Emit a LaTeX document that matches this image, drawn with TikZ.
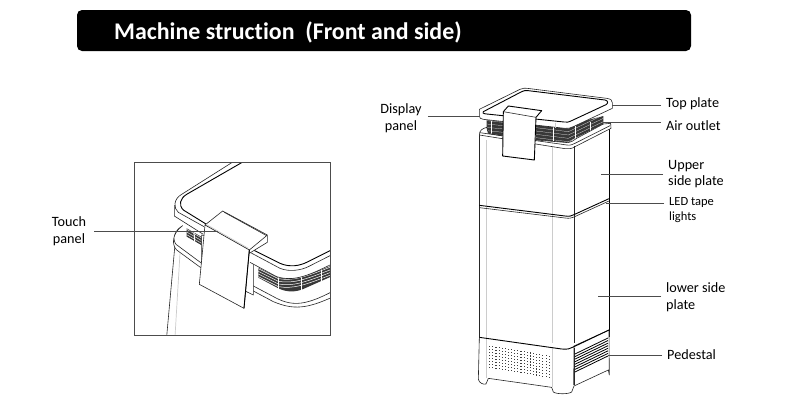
\documentclass[tikz,border=0pt]{standalone}
\usepackage{fontspec}
\setmainfont[Ligatures=NoCommon]{Carlito}
\definecolor{linegray}{gray}{0.15}
\definecolor{ribgray}{gray}{0.8}
\definecolor{meshgray}{gray}{0.22}
\tikzset{
  lbl/.style={font=\fontsize{14.2}{16.5}\selectfont,align=left,text=black,inner sep=0pt},
  leader/.style={draw=black!70,line width=0.6pt},
  edge/.style={draw=linegray,line width=0.6pt,line join=round},
  thick edge/.style={draw=black,line width=0.9pt,line join=round},
  rib/.style={draw=ribgray,line width=0.7pt},
  zoomA/.style={shift={(440,80)},x=0.3333pt,y=-0.3333pt},
  zoomB/.style={shift={(440,280)},x=0.3333pt,y=-0.3333pt},
  zoomC/.style={shift={(130,155)},x=0.3333pt,y=-0.3333pt},
}
\begin{document}
\begin{tikzpicture}[x=1pt,y=-1pt]
\useasboundingbox (0,0) rectangle (800,400);
\fill[white] (0,0) rectangle (800,400);
% banner
\fill[black,rounded corners=5pt] (77,10) rectangle (691,51);
\node[anchor=west,text=white,inner sep=0pt,font=\fontsize{23.9}{26}\selectfont\bfseries] (title) at (114,32) {Machine struction\hspace{0.45em}(Front and side)};
% main unit, upper part
\begin{scope}[zoomA]
  \draw[edge] (118,165) -- (118,790);
  \draw[black,line width=1pt] (508,135) -- (508,770);
  \draw[rib] (140,180) -- (140,790);
  \draw[rib] (338,195) -- (338,790);
  % mesh
  \fill[meshgray] (140,120) -- (190,125) -- (190,168) -- (140,158) -- cycle;
  \fill[meshgray] (288,125) -- (385,135) -- (490,108) -- (490,132) -- (400,178) -- (385,188) -- (288,180) -- cycle;
  \foreach \y in {0,10,...,40} {
    \draw[white,line width=0.2pt] (140,{122+\y}) -- (190,{127+\y});
    \draw[white,line width=0.2pt] (288,{133+\y}) -- (385,{145+\y}) -- (490,{\y+95});
  }
  \foreach \x in {340,405,450} \draw[white,line width=0.9pt] (\x,125) -- (\x,190);
  \draw[white,line width=0.8pt] (155,120) -- (155,165);
  % upper rim
  \draw[edge,fill=white] (118,165) .. controls (118,150) and (128,146) .. (140,142) -- (145,160) -- (188,168) -- (288,180) -- (385,188) .. controls (395,188) and (400,180) .. (410,175) -- (490,132) -- (512,130) -- (513,145) -- (405,200) .. controls (395,207) and (385,207) .. (375,206) -- cycle;
  \draw[edge] (120,158) -- (380,195) .. controls (392,197) and (398,193) .. (405,190) -- (510,137);
  \draw[edge] (403,198) -- (403,790);
  % seam
  \draw[thick edge] (118,376) -- (375,408) .. controls (388,410) and (395,408) .. (402,404) -- (507,356);
  \draw[edge] (118,383) -- (375,414) .. controls (388,416) and (395,414) .. (402,411) -- (507,363);
  % top plate
  \draw[edge,fill=white] (118,88) -- (240,28) .. controls (250,24) and (255,24) .. (262,25) -- (500,55) .. controls (512,57) and (517,60) .. (517,68) -- (517,85) -- (400,140) .. controls (390,145) and (385,145) .. (375,145) -- (130,118) .. controls (122,117) and (118,114) .. (118,108) -- cycle;
  \draw[thick edge] (130,95) -- (245,35) .. controls (252,31) and (258,31) .. (265,32) -- (495,60) .. controls (505,62) and (505,70) .. (498,74) -- (395,122) .. controls (385,127) and (380,127) .. (372,126) -- (140,102) .. controls (130,101) and (125,98) .. (130,95) -- cycle;
  \draw[rib] (345,128) -- (345,145);
  % display clip
  \draw[thick edge,fill=white] (190,95) -- (205,78) -- (305,92) -- (288,112) -- (283,240) -- (188,228) -- cycle;
  \draw[edge] (190,95) -- (288,112);
\end{scope}
% main unit, lower part
\begin{scope}[zoomB]
  \draw[edge,fill=white] (118,172) -- (115,298) .. controls (118,310) and (130,314) .. (138,312) -- (145,295) -- (335,322) -- (340,336) .. controls (350,343) and (385,343) .. (395,336) -- (402,318) -- (505,270) -- (508,285) -- (507,150) -- (402,198) -- (401,315);
  \draw[rib] (140,180) -- (140,295);
  \draw[rib] (338,205) -- (338,322);
  \draw[thick edge] (118,172) -- (365,207) .. controls (382,209) and (392,206) .. (402,200) -- (507,150);
  \draw[edge] (402,205) -- (402,316);
  \foreach \i in {0,...,19} {
    \foreach \j in {0,...,7} {
      \fill[black!75] ({149+\i*9.4-1.5},{198+\j*9+\i*1.6-1.5}) rectangle ++(3.2,3.2);
    }
  }
  \foreach \j in {0,...,7} {
    \draw[black,line width=0.8pt] (405,{222+\j*7.7}) -- (504,{174+\j*7.7});
  }
\end{scope}
% inset
\begin{scope}
  \clip (134.7,162.3) rectangle (330,335.7);
  \begin{scope}[zoomC]
    \draw[edge] (135,268) -- (110,545);
    \draw[rib] (150,295) -- (135,545);
    % rim
    \draw[edge,fill=white] (158,212) .. controls (135,225) and (125,250) .. (138,268) -- (215,325) -- (355,385) -- (440,430) .. controls (490,455) and (530,450) .. (610,408) -- (610,425) .. controls (530,462) and (490,465) .. (430,440) -- (355,400) -- (215,340) -- (140,285) .. controls (125,270) and (125,235) .. (158,212) -- cycle;
    % mesh
    \fill[meshgray] (170,220) -- (222,250) -- (222,275) -- (170,245) -- cycle;
    \fill[meshgray] (385,338) -- (445,368) .. controls (490,375) and (520,365) .. (610,330) -- (610,362) -- (520,402) .. controls (495,412) and (470,412) .. (445,400) -- (385,368) -- cycle;
    \foreach \d in {0,8,...,24} {
      \draw[white,line width=0.4pt] (170,{223+\d}) -- (222,{253+\d});
      \draw[white,line width=0.5pt] (385,{341+\d}) -- (445,{371+\d}) .. controls (490,{378+\d}) and (520,{368+\d}) .. (610,{333+\d});
    }
    \foreach \x in {445,515,575} \draw[white,line width=1pt] (\x,338) -- (\x,408);
    \draw[white,line width=1pt] (192,230) -- (195,270);
    \draw[edge,fill=white] (215,240) -- (215,345) -- (370,420) -- (370,290) -- cycle;
    % plate
    \fill[white] (310,15) -- (155,118) .. controls (133,132) and (130,160) .. (135,185) -- (220,240) -- (360,322) -- (440,365) .. controls (490,380) and (530,365) .. (610,325) -- (610,0) -- cycle;
    \draw[edge] (310,20) -- (155,118) .. controls (130,132) and (130,160) .. (145,172) -- (222,215);
    \draw[edge] (133,150) -- (133,183) -- (220,238);
    \draw[edge] (360,322) -- (440,365) .. controls (490,380) and (530,365) .. (610,325);
    \draw[thick edge] (340,20) -- (170,118) .. controls (150,130) and (145,150) .. (160,165) -- (228,207);
    \draw[thick edge] (370,285) -- (450,325) .. controls (480,338) and (510,332) .. (530,322) -- (610,282);
    \draw[edge] (360,292) -- (450,340) .. controls (480,352) and (515,345) .. (535,335) -- (610,297);
    % clip
    \draw[edge,fill=white] (225,210) -- (278,168) -- (412,240) -- (412,262) -- (358,295) -- (358,285) -- cycle;
    \draw[edge] (283,172) -- (410,242) -- (358,285);
    \draw[edge,fill=white] (225,210) -- (208,388) -- (342,460) -- (358,285) -- cycle;
    \draw[thick edge] (358,285) -- (342,460);
    \draw[ribgray,line width=0.8pt] (228,208) -- (355,280);
  \end{scope}
\end{scope}
\draw[draw=black!70,line width=0.8pt] (134.7,162.3) rectangle (330,335.7);
% labels
\node[lbl,align=center] (display) at (401,118) {Display\\panel};
\node[lbl,anchor=west] (top) at (666,104) {Top plate};
\node[lbl,anchor=west] (air) at (666,126) {Air outlet};
\node[lbl,anchor=west] (upper) at (668,174) {Upper\\ side plate};
\node[lbl,anchor=west,font=\fontsize{12.5}{15}\selectfont] (led) at (669,210) {LED tape\\lights};
\node[lbl,anchor=west] (lower) at (666,297) {lower side\\plate};
\node[lbl,anchor=west] (ped) at (667,355) {Pedestal};
\node[lbl,align=center] (touch) at (69,231) {Touch\\panel};
% leader ends
\coordinate (cdisplay) at (480,116);
\coordinate (ctop) at (612,105);
\coordinate (cair) at (603,122);
\coordinate (cupper) at (601,174);
\coordinate (cled) at (606,203);
\coordinate (clower) at (598,296);
\coordinate (cped) at (608,355);
\coordinate (ctouch) at (218,231);
\draw[leader] (display.east |- cdisplay) ++(6,0) -- (cdisplay);
\draw[leader] (top.west |- ctop) ++(-5,0) -- (ctop);
\draw[leader] (air.west |- cair) ++(-5,0) -- (cair);
\draw[leader] (upper.west |- cupper) ++(-5,0) -- (cupper);
\draw[leader] (led.west |- cled) ++(-5,0) -- (cled);
\draw[leader] (lower.west |- clower) ++(-5,0) -- (clower);
\draw[leader] (ped.west |- cped) ++(-5,0) -- (cped);
\draw[leader] (touch.east |- ctouch) ++(8,0) -- (ctouch);
\end{tikzpicture}
\end{document}
